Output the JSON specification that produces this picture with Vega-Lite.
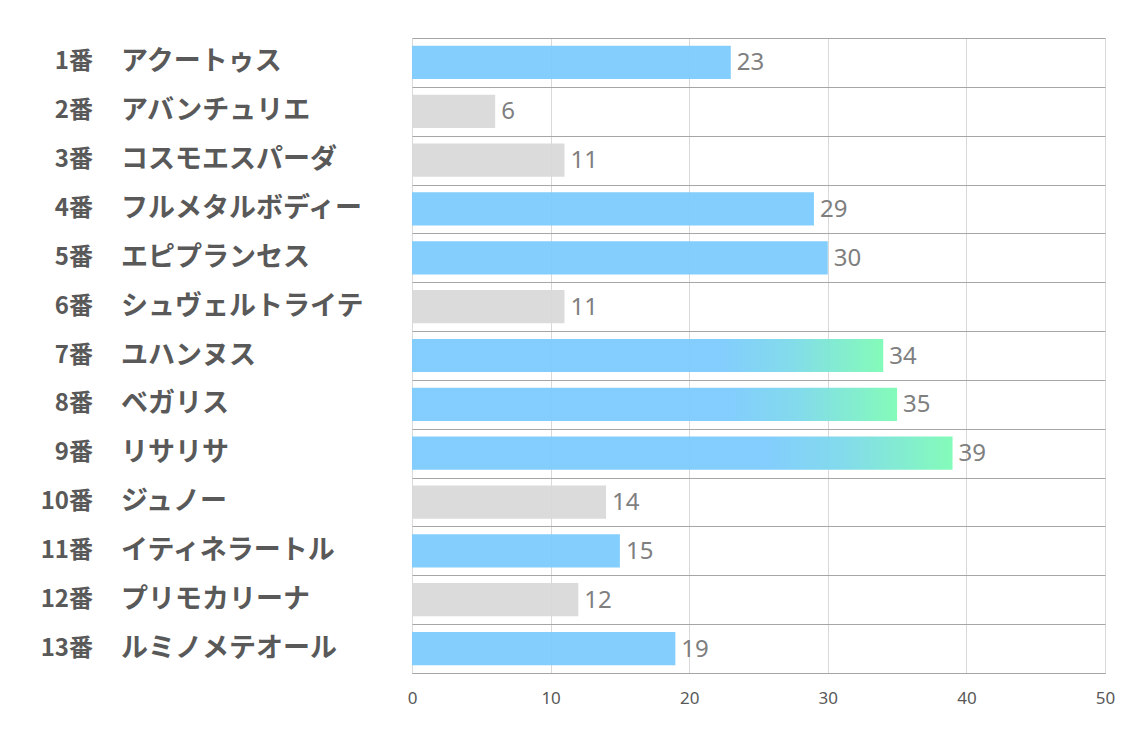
{
  "$schema": "https://vega.github.io/schema/vega-lite/v6.json",
  "width": 693,
  "height": 635,
  "autosize": "none",
  "padding": {"left": 412, "top": 38, "right": 29, "bottom": 64},
  "background": "white",
  "config": {
    "view": {"stroke": null},
    "axisX": {"title": null, "ticks": false, "domain": true, "domainColor": "#a6a6a6", "gridColor": "#d9d9d9", "labelFontSize": 17, "labelColor": "#595959", "labelPadding": 17, "labelFlush": false, "labelFont": "Noto Sans"},
    "axisY": {"title": null, "labels": false, "ticks": false, "domain": false, "grid": true, "tickBand": "extent", "gridColor": "#a6a6a6", "gridWidth": 1}
  },
  "data": {"values": [
    {"num": "1番", "name": "アクートゥス", "value": 23, "group": "blue"},
    {"num": "2番", "name": "アバンチュリエ", "value": 6, "group": "gray"},
    {"num": "3番", "name": "コスモエスパーダ", "value": 11, "group": "gray"},
    {"num": "4番", "name": "フルメタルボディー", "value": 29, "group": "blue"},
    {"num": "5番", "name": "エピプランセス", "value": 30, "group": "blue"},
    {"num": "6番", "name": "シュヴェルトライテ", "value": 11, "group": "gray"},
    {"num": "7番", "name": "ユハンヌス", "value": 34, "group": "top"},
    {"num": "8番", "name": "ベガリス", "value": 35, "group": "top"},
    {"num": "9番", "name": "リサリサ", "value": 39, "group": "top"},
    {"num": "10番", "name": "ジュノー", "value": 14, "group": "gray"},
    {"num": "11番", "name": "イティネラートル", "value": 15, "group": "blue"},
    {"num": "12番", "name": "プリモカリーナ", "value": 12, "group": "gray"},
    {"num": "13番", "name": "ルミノメテオール", "value": 19, "group": "blue"}
  ]},
  "encoding": {
    "y": {
      "field": "num", "type": "nominal",
      "sort": ["1番", "2番", "3番", "4番", "5番", "6番", "7番", "8番", "9番", "10番", "11番", "12番", "13番"],
      "scale": {"paddingInner": 0, "paddingOuter": 0},
      "axis": {"grid": true}
    },
    "x": {"field": "value", "type": "quantitative", "scale": {"domain": [0, 50]},
      "axis": {"values": [0, 10, 20, 30, 40, 50], "labelFontSize": 17, "labelFlush": false}}
  },
  "layer": [
    {
      "transform": [{"filter": "datum.group === 'gray'"}],
      "mark": {"type": "bar", "color": "#d9d9d9", "fillOpacity": 0.95, "height": {"band": 0.68}}
    },
    {
      "transform": [{"filter": "datum.group === 'blue'"}],
      "mark": {"type": "bar", "color": "#7ccbfd", "fillOpacity": 0.95, "height": {"band": 0.68}}
    },
    {
      "transform": [{"filter": "datum.group === 'top'"}],
      "mark": {"type": "bar", "height": {"band": 0.68}, "fillOpacity": 0.95, "fill": {"gradient": "linear", "x1": 0, "x2": 1, "y1": 0, "y2": 0,
        "stops": [{"offset": 0, "color": "#7ccbfd"}, {"offset": 0.66, "color": "#7ccbfd"}, {"offset": 0.8, "color": "#7cd9ea"}, {"offset": 1, "color": "#7dfbb5"}]}}
    },
    {
      "mark": {"type": "text", "align": "left", "baseline": "middle", "dx": 6, "dy": 1, "fontSize": 24, "font": "Noto Sans", "color": "#7f7f7f"},
      "encoding": {"text": {"field": "value", "type": "quantitative"}}
    },
    {
      "mark": {"type": "text", "align": "right", "baseline": "middle", "dx": -319, "fontSize": 24, "fontWeight": "bold", "font": "Noto Sans CJK JP", "color": "#595959"},
      "encoding": {"x": {"datum": 0, "type": "quantitative"}, "text": {"field": "num"}}
    },
    {
      "mark": {"type": "text", "align": "left", "baseline": "middle", "dx": -291, "fontSize": 27, "fontWeight": "bold", "font": "Noto Sans CJK JP", "color": "#595959"},
      "encoding": {"x": {"datum": 0, "type": "quantitative"}, "text": {"field": "name"}}
    }
  ]
}
